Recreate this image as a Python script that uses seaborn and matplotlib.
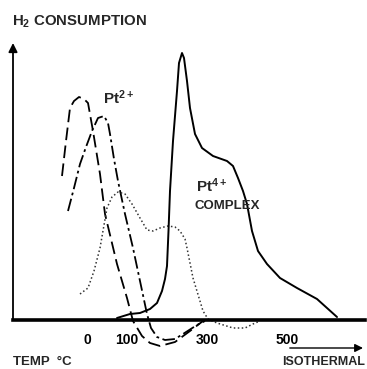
import matplotlib
matplotlib.use("Agg")
import matplotlib.pyplot as plt
import seaborn as sns
import pandas as pd

# ---- data (temperature in °C, H2 consumption in arbitrary units) ----
pt2_a_temp = [-62.5, -52.5, -42.5, -32.5, -20, -7.5, 2.5, 15, 32.5, 45, 75, 100,
              115, 137.5, 157.5, 182.5, 220, 257.5, 290]
pt2_a_h2 = [144, 179, 212, 219, 223, 221, 217, 189, 146, 106, 56, 22,
            -1, -16, -23, -26, -22, -11, -1]

pt2_b_temp = [-47.5, -32.5, -17.5, -2.5, 12.5, 27.5, 42.5, 52.5, 57.5, 67.5, 77.5,
              95, 115, 132.5, 150, 160, 175, 195, 220, 240, 275, 295]
pt2_b_h2 = [109, 132, 156, 173, 189, 202, 204, 197, 186, 161, 139,
            106, 72, 39, 6, -8, -17, -20, -19, -14, -5, -1]

dotted_temp = [-17.5, 2.5, 17.5, 32.5, 50, 62.5, 77.5, 95, 112.5, 132.5, 150, 165,
               182.5, 202.5, 220, 232.5, 245, 250, 265, 290, 302.5, 325, 365, 395,
               415, 432.5]
dotted_h2 = [26, 32, 49, 72, 112, 123, 128, 126, 116, 102, 90, 89,
             92, 94, 93, 89, 81, 72, 42, 9, 1, -3, -8, -8, -4, -1]

pt4_temp = [75, 107.5, 132.5, 157.5, 175, 187.5, 195, 200, 203.75, 207.5, 215, 225,
            230, 237.5, 242.5, 250, 257.5, 270, 287.5, 315, 350, 365, 377.5, 390,
            400, 412.5, 427.5, 450, 482.5, 525, 575, 625]
pt4_h2 = [2, 6, 7, 11, 17, 29, 41, 54, 89, 129, 179, 229,
          257, 267, 262, 239, 212, 186, 172, 164, 159, 154, 142, 129,
          116, 89, 69, 56, 42, 32, 21, 3]

tick_values = [0, 100, 200, 300, 400, 500]
tick_labels = ["0", "100", "", "300", "", "500"]

# ---- style ----
sns.set_style("white")
plt.rcParams["font.family"] = ["Liberation Sans", "DejaVu Sans"]
plt.rcParams["mathtext.default"] = "regular"

W, H = 367, 369
fig = plt.figure(figsize=(W / 100, H / 100), dpi=100)
ax = fig.add_axes([13 / W, (H - 350) / H, (365 - 13) / W, (350 - 43) / H])
ax.set_xlim(-185, 695)
ax.set_ylim(-30, 277)

series = [
    (pt2_a_temp, pt2_a_h2, (0, (7, 3)), 1.3, "black"),
    (pt2_b_temp, pt2_b_h2, (0, (7, 2, 1.5, 2)), 1.3, "black"),
    (dotted_temp, dotted_h2, (0, (1, 1.6)), 1.1, "#333333"),
    (pt4_temp, pt4_h2, "-", 1.4, "black"),
]
for t, h, ls, lw, col in series:
    df = pd.DataFrame({"temp": t, "h2": h})
    sns.lineplot(data=df, x="temp", y="h2", ax=ax, color=col, linewidth=lw,
                 linestyle=ls, sort=False, estimator=None, clip_on=False)

# axes styling
for s in ["top", "right", "left"]:
    ax.spines[s].set_visible(False)
ax.spines["bottom"].set_position(("data", 0))
ax.spines["bottom"].set_linewidth(2.6)
ax.spines["bottom"].set_color("black")
ax.set_xticks(tick_values)
ax.set_xticklabels(tick_labels, fontweight="bold")
ax.tick_params(axis="x", direction="in", length=7, width=1.2, pad=9,
               labelsize=10, colors="black")
ax.set_yticks([])
ax.set_xlabel("")
ax.set_ylabel("")

# vertical axis arrow
ax.annotate("", xy=(0, 277), xycoords=ax.get_yaxis_transform(),
            xytext=(0, 0), textcoords=ax.get_yaxis_transform(),
            arrowprops=dict(arrowstyle="-|>", color="black", lw=1.3,
                            mutation_scale=13, shrinkA=0, shrinkB=0))
# isothermal arrow
ax.annotate("", xy=(690, -28), xytext=(507, -28),
            arrowprops=dict(arrowstyle="-|>", color="black", lw=1.0,
                            mutation_scale=12, shrinkA=0, shrinkB=0),
            annotation_clip=False)

# texts
fig.text(12 / W, 1 - 22 / H, "H$_2$ CONSUMPTION", fontsize=10.8, fontweight="bold",
         ha="left", va="center")
ax.text(40, 222, "Pt$^{2+}$", fontsize=11, fontweight="bold", ha="left", va="center")
ax.text(272, 134, "Pt$^{4+}$", fontsize=11, fontweight="bold", ha="left", va="center")
ax.text(268, 114, "COMPLEX", fontsize=9.5, fontweight="bold", ha="left", va="center")
fig.text(13 / W, 1 - 362 / H, "TEMP  °C", fontsize=9.5, fontweight="bold",
         ha="left", va="center")
fig.text(365 / W, 1 - 362 / H, "ISOTHERMAL", fontsize=9, fontweight="bold",
         ha="right", va="center")

fig.savefig("out.png", dpi=100)
